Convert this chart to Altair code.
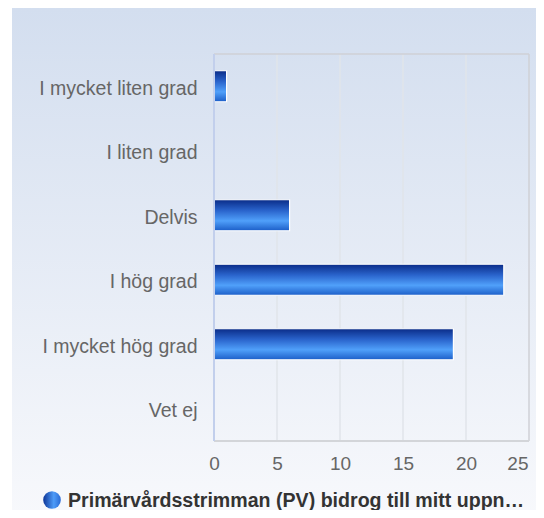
import altair as alt
import pandas as pd

categories = ["I mycket liten grad", "I liten grad", "Delvis", "I hög grad", "I mycket hög grad", "Vet ej"]
values = [1, 0, 6, 23, 19, 0]
tick_values = [0, 5, 10, 15, 20, 25]
grid_values = [5, 10, 15, 20]
series_name = "Primärvårdsstrimman (PV) bidrog till mitt uppn…"

W, H = 315, 387
FONT = "Liberation Sans"

bars_df = pd.DataFrame({"kategori": categories, "antal": values})
grid_df = pd.DataFrame({"antal": grid_values})
one = pd.DataFrame({"serie": [series_name]})

bg = alt.Chart(one).mark_rect(
    fill=alt.Gradient(gradient="linear", x1=0, x2=0, y1=0, y2=1,
                      stops=[alt.GradientStop(offset=0, color="#d3deef"),
                             alt.GradientStop(offset=1, color="#f8f9fc")])
).encode(x=alt.value(-202), x2=alt.value(330), y=alt.value(-46), y2=alt.value(470))

grid = alt.Chart(grid_df).mark_rule(color="#e1e4ea", strokeWidth=1.5).encode(
    x=alt.X("antal:Q")
)

bar_grad = alt.Gradient(gradient="linear", x1=0, x2=0, y1=0, y2=1,
                        stops=[alt.GradientStop(offset=0, color="#0a2c88"),
                               alt.GradientStop(offset=0.35, color="#2a64cc"),
                               alt.GradientStop(offset=0.68, color="#50a0fa"),
                               alt.GradientStop(offset=1, color="#1c5ec8")])

bars = alt.Chart(bars_df).mark_bar(fill=bar_grad, stroke="white", strokeWidth=1.2).encode(
    y=alt.Y("kategori:N", sort=categories, title=None,
            scale=alt.Scale(paddingInner=0.52, paddingOuter=0.26),
            axis=alt.Axis(labelFont=FONT, labelFontSize=19.5, labelColor="#666666",
                          labelPadding=17, labelOffset=2.5, ticks=False, domain=False,
                          grid=False, zindex=1, labelLimit=300)),
    x=alt.X("antal:Q", title=None,
            scale=alt.Scale(domain=[0, 25], nice=False),
            axis=alt.Axis(values=tick_values, labelFont=FONT, labelFontSize=19,
                          labelColor="#666666", labelPadding=13, ticks=False,
                          domain=False, grid=False, zindex=1,
                          labelAlign=alt.expr("datum.value == 25 ? 'right' : 'center'"),
                          labelOffset=alt.expr("datum.value == 25 ? -1 : 0"))),
)

border_top = alt.Chart(one).mark_rule(color="#cfd1d6", strokeWidth=1.5).encode(
    x=alt.value(0), x2=alt.value(W), y=alt.value(0))
border_right = alt.Chart(one).mark_rule(color="#cfd1d6", strokeWidth=1.5).encode(
    x=alt.value(W), y=alt.value(0), y2=alt.value(H))
border_bottom = alt.Chart(one).mark_rule(color="#d3d5d9", strokeWidth=2).encode(
    x=alt.value(0), x2=alt.value(W), y=alt.value(H))
border_left = alt.Chart(one).mark_rule(color="#c2cfec", strokeWidth=2).encode(
    x=alt.value(0), y=alt.value(0), y2=alt.value(H))

legend_dot = alt.Chart(one).mark_point(
    filled=True, size=310, opacity=1, strokeWidth=0,
    fill=alt.Gradient(gradient="linear", x1=0, x2=1, y1=0, y2=0,
                      stops=[alt.GradientStop(offset=0, color="#0d3597"),
                             alt.GradientStop(offset=0.6, color="#4e9cf8"),
                             alt.GradientStop(offset=1, color="#2a6ad4")])
).encode(x=alt.value(-162), y=alt.value(446))

legend_text = alt.Chart(one).mark_text(
    align="left", baseline="middle", font=FONT, fontSize=19.6, fontWeight="bold",
    color="#333333"
).encode(x=alt.value(-146), y=alt.value(447), text="serie:N")

chart = alt.layer(
    bg, grid, bars, border_top, border_right, border_bottom, border_left,
    legend_dot, legend_text
).properties(
    width=W, height=H,
    padding={"left": 206, "top": 46, "right": 7, "bottom": 69},
    autosize=alt.AutoSizeParams(type="none"),
).configure_view(stroke=None)

chart.save("out.html", embed_options={"renderer": "svg", "actions": False})
